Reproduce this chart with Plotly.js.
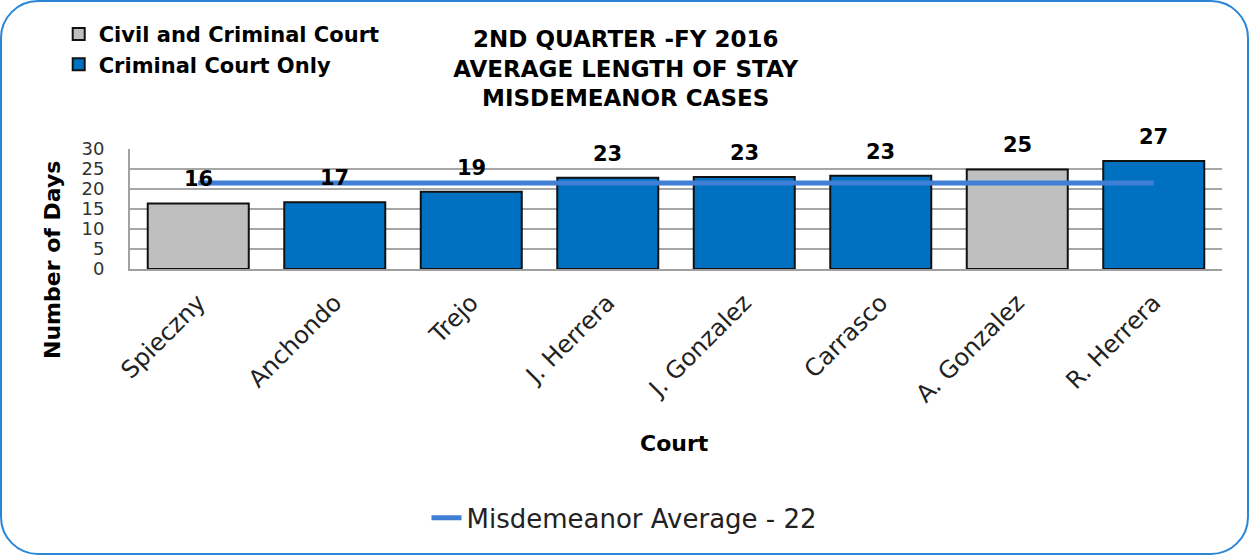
<!DOCTYPE html>
<html><head><meta charset="utf-8">
<script src="https://cdn.plot.ly/plotly-3.0.1.min.js"></script>
<style>
html,body{margin:0;padding:0;background:#fff;}
#wrap{position:absolute;left:0;top:0;width:1249px;height:555px;box-sizing:border-box;border:2px solid #2a86d6;border-radius:38px;overflow:hidden;background:#fff;}
#chart{position:absolute;left:-2px;top:-2px;width:1249px;height:555px;}
</style></head>
<body><div id="wrap"><div id="chart"></div></div>
<script>
const courts = ["Spieczny","Anchondo","Trejo","J. Herrera","J. Gonzalez","Carrasco","A. Gonzalez","R. Herrera"];
const days = [16.4, 16.7, 19.3, 22.8, 23.0, 23.3, 24.9, 27.0];
const courtType = ["Civil and Criminal Court","Criminal Court Only","Criminal Court Only","Criminal Court Only","Criminal Court Only","Criminal Court Only","Civil and Criminal Court","Criminal Court Only"];
const typeNames = ["Civil and Criminal Court","Criminal Court Only"];
const typeColors = {"Civil and Criminal Court":"#bfbfbf","Criminal Court Only":"#0070c0"};
const avgName = "Misdemeanor Average - 22";
const avgValue = 21.5;

const FONT = "DejaVu Sans, Open Sans, sans-serif";
const traces = typeNames.map(t => {
  const xs=[], ys=[];
  courts.forEach((c,i)=>{ if(courtType[i]===t){xs.push(c); ys.push(days[i]);} });
  return {type:'bar', name:'<b>'+t+'</b>', x:xs, y:ys, width:0.74,
    marker:{color:typeColors[t], line:{color:'#111', width:2}},
    legend:'legend', hoverinfo:'skip'};
});
traces.push({type:'scatter', mode:'lines', name:avgName, x:courts, y:courts.map(()=>avgValue),
  line:{color:'#3f7fd6', width:5}, legend:'legend2', hoverinfo:'skip'});

const annotations = courts.map((c,i)=>({x:c, y:days[i], xref:'x', yref:'y', text:'<b>'+Math.round(days[i])+'</b>',
  showarrow:false, yanchor:'bottom', yshift:10, font:{family:FONT, size:21, color:'#000'}}));
annotations.push({xref:'paper', yref:'paper', x:-0.0714, y:0.075, xanchor:'center', yanchor:'middle',
  text:'<b>Number of Days</b>', textangle:-90,
  showarrow:false, font:{family:FONT, size:22, color:'#000'}});
annotations.push({xref:'paper', yref:'paper', x:0.499, y:-1.458, xanchor:'center', yanchor:'middle',
  text:'<b>Court</b>', showarrow:false, font:{family:FONT, size:22, color:'#000'}});

const layout = {
  width:1249, height:555,
  paper_bgcolor:'rgba(0,0,0,0)', plot_bgcolor:'#fff',
  margin:{l:130, r:27, t:149, b:286, autoexpand:false},
  barmode:'overlay',
  title:{text:'<b>2ND QUARTER -FY 2016<br>AVERAGE LENGTH OF STAY<br>MISDEMEANOR CASES</b>',
    xref:'container', yref:'container', x:0.501, y:0.916, xanchor:'center', yanchor:'middle',
    font:{family:FONT, size:23, color:'#000'}},
  xaxis:{type:'category', categoryorder:'array', categoryarray:courts, tickangle:-45, automargin:false,
    tickfont:{family:FONT, size:24, color:'#222'}, ticklabelstandoff:8, showline:true, linecolor:'#a0a0a0', linewidth:2,
    showgrid:false, ticks:'', range:[-0.5, courts.length-0.5]},
  yaxis:{range:[0,30], dtick:5, automargin:false, tickfont:{family:FONT, size:18, color:'#333'}, ticklabelstandoff:20,
    showgrid:true, gridcolor:'#a6a6a6', gridwidth:2, showline:true, linecolor:'#a0a0a0', linewidth:2, zeroline:false, ticks:''},
  legend:{xref:'container', yref:'container', x:0.047, y:0.975, xanchor:'left', yanchor:'top',
    font:{family:FONT, size:21, color:'#000'}, bgcolor:'rgba(0,0,0,0)', tracegroupgap:0, traceorder:'normal'},
  legend2:{xref:'container', yref:'container', x:0.5, y:0.067, xanchor:'center', yanchor:'middle',
    font:{family:FONT, size:26, color:'#222'}, bgcolor:'rgba(0,0,0,0)'},
  showlegend:true,
  annotations:annotations
};
Plotly.newPlot('chart', traces, layout, {displayModeBar:false, staticPlot:true});
</script></body></html>
